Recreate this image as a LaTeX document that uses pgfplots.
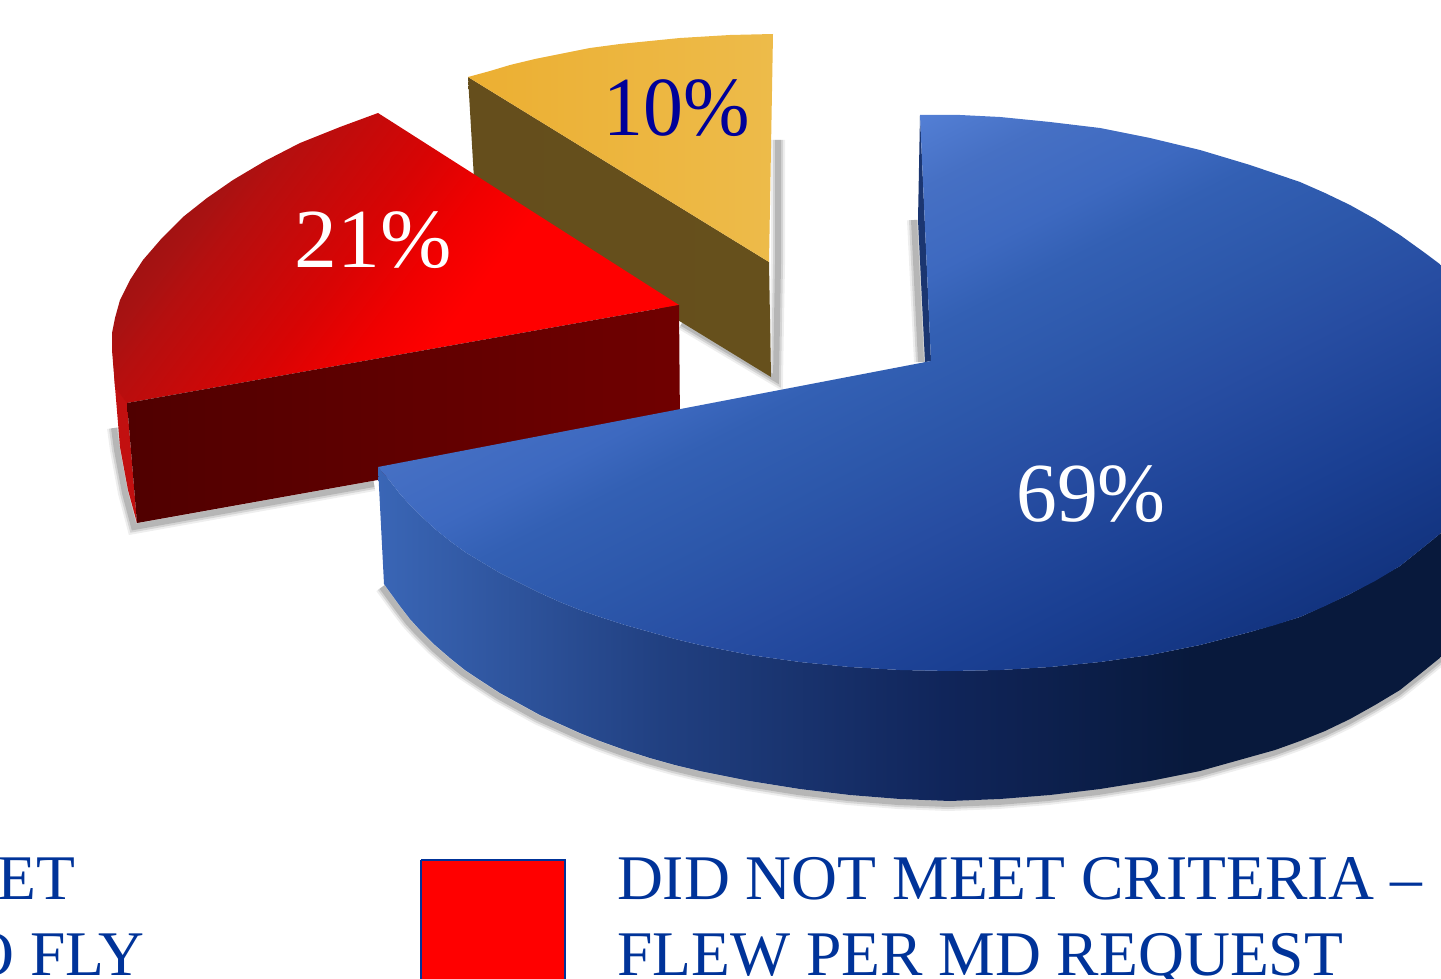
\documentclass[border=0pt]{standalone}
\usepackage{pgfplots}
\usepackage{pgfplotstable}
\usepackage{fontspec}
\setmainfont{Liberation Serif}
\pgfplotsset{compat=1.18}

\definecolor{legendblue}{HTML}{003399}
\definecolor{labelblue}{HTML}{000099}
\definecolor{shadowgray}{HTML}{707070}

% Colour stops of the slice faces
\definecolor{bt1}{HTML}{133480}
\definecolor{bt2}{HTML}{1A3F92}
\definecolor{bt3}{HTML}{274DA2}
\definecolor{bt4}{HTML}{2C57AA}
\definecolor{bt5}{HTML}{3360B4}
\definecolor{bt6}{HTML}{3D69C0}
\definecolor{bt7}{HTML}{4670C4}
\definecolor{bt8}{HTML}{5480D6}
\definecolor{bt9}{HTML}{5A84DC}
\definecolor{bs1}{HTML}{3A66B6}
\definecolor{bs2}{HTML}{214081}
\definecolor{bs3}{HTML}{10255A}
\definecolor{bs4}{HTML}{08193C}
\definecolor{rt1}{HTML}{A01212}
\definecolor{rt2}{HTML}{A81212}
\definecolor{rt3}{HTML}{B50F0F}
\definecolor{rt4}{HTML}{C50A0A}
\definecolor{rt5}{HTML}{D80404}
\definecolor{rt6}{HTML}{F00000}
\definecolor{rt7}{HTML}{FF0000}
\definecolor{rs}{HTML}{C21010}
\definecolor{rf1}{HTML}{500000}
\definecolor{rf2}{HTML}{700000}
\definecolor{gt1}{HTML}{ECAF32}
\definecolor{gt2}{HTML}{EDBB4A}
\definecolor{gs1}{HTML}{654E1C}
\definecolor{gs2}{HTML}{66501C}

\pgfdeclareverticalshading{bluetop}{100bp}{
  color(0bp)=(bt1); color(25.7bp)=(bt1); color(33bp)=(bt2); color(42bp)=(bt3);
  color(47.7bp)=(bt4); color(54bp)=(bt5); color(57.4bp)=(bt6); color(62.7bp)=(bt7);
  color(67.5bp)=(bt8); color(84bp)=(bt9); color(100bp)=(bt9)}
\pgfdeclarehorizontalshading{blueside}{100bp}{
  color(0bp)=(bs1); color(25bp)=(bs1); color(37.5bp)=(bs2); color(50bp)=(bs3);
  color(61bp)=(bs4); color(100bp)=(bs4)}
\pgfdeclarehorizontalshading{redtop}{100bp}{
  color(0bp)=(rt1); color(27bp)=(rt1); color(30bp)=(rt2); color(33.3bp)=(rt3);
  color(39bp)=(rt4); color(46bp)=(rt5); color(53bp)=(rt6); color(59.5bp)=(rt7);
  color(100bp)=(rt7)}

% Outlines of the faces, in pixel-like units with y running downwards
\pgfplotstableread{
x y
920 115
960 115
1000 117
1050 122
1100 128
1150 138
1200 150
1250 165
1300 182
1325 193
1350 205
1375 219
1400 235
1425 253
1441 265
1480 319
1500 393
1480 490
1441 533
1420 550
1400 566
1375 581
1350 594
1325 606
1300 617
1275 625
1250 632
1200 645
1150 655
1100 662
1050 667
1000 670
950 671
900 670
850 667
800 662
750 655
725 650
700 645
675 639
650 632
625 625
600 617
580 610
560 602
540 593
520 583
500 573
480 561
465 552
450 541
435 529
420 515
410 505
400 494
390 481
378 467
931 361
920 115
}\blueTop
\pgfplotstableread{
x y
378 467
390 481
400 494
410 505
420 515
435 529
450 541
465 552
480 561
500 573
520 583
540 593
560 602
580 610
600 617
625 625
650 632
675 639
700 645
725 650
750 655
800 662
850 667
900 670
950 671
1000 670
1050 667
1100 662
1150 655
1200 645
1250 632
1300 617
1350 594
1400 566
1441 533
1480 490
1500 393
1510 550
1480 612
1441 657
1420 674
1400 690
1375 705
1350 719
1325 731
1300 741
1275 750
1250 757
1225 764
1200 771
1150 781
1100 789
1050 795
1000 799
950 801
900 799
850 795
800 789
750 781
725 776
700 771
675 765
650 758
625 750
600 741
580 733
560 724
540 715
520 704
500 693
480 680
465 670
450 658
435 645
420 630
410 619
400 606
392 595
384 584
378 467
}\blueSide
\pgfplotstableread{
x y
384 584
392 595
400 606
410 619
420 630
435 645
450 658
465 670
480 680
500 693
520 704
540 715
560 724
580 733
600 741
625 750
650 758
675 765
700 771
725 776
750 781
800 789
850 795
900 799
950 801
1000 799
1050 795
1100 789
1150 781
1200 771
1225 764
1250 757
1275 750
1300 741
1325 731
1350 719
1375 705
1400 690
1420 674
1441 657
1480 612
}\blueRim
\pgfplotstableread{
x y
117 425
120 447
128 490
137 524
377 481
}\redRim
\pgfplotstableread{
x y
776 138
776 262
774 377
680 321
}\goldRim
\pgfplotstableread{
x y
915 220
922 362
}\notchEdge

\newcommand{\softshadow}[3]{%
  \addplot[draw=shadowgray, line width=7pt, opacity=.12, line cap=butt]
    table[x expr=\thisrow{x}+#2, y expr=\thisrow{y}+#3] {#1};
  \addplot[draw=shadowgray, line width=5pt, opacity=.2, line cap=butt]
    table[x expr=\thisrow{x}+#2, y expr=\thisrow{y}+#3] {#1};
  \addplot[draw=shadowgray, line width=3pt, opacity=.3, line cap=butt]
    table[x expr=\thisrow{x}+#2, y expr=\thisrow{y}+#3] {#1};
}

\begin{document}
\begin{tikzpicture}[every node/.style={inner sep=0pt, outer sep=0pt}]
\path[use as bounding box, clip] (0,0) rectangle (720.5pt,489.5pt);
\begin{axis}[
  at={(0,0)}, anchor=south west,
  width=720.5pt, height=489.5pt, scale only axis,
  xmin=0, xmax=1441, ymin=0, ymax=979, y dir=reverse,
  hide axis, clip=true,
  every axis plot/.append style={no markers, sharp plot},
]
% Drop shadows on the page
\softshadow{\blueRim}{-2}{3}
\softshadow{\redRim}{-3}{3}
\softshadow{\goldRim}{2}{2}
\softshadow{\notchEdge}{-1}{0}

% 10% slice
\addplot[draw=none, left color=gs1, right color=gs2] coordinates
  {(468,77) (769,262) (771,377) (475,196) (468,77)};
\addplot[draw=none, left color=gt1, right color=gt2] coordinates
  {(468,77) (490,71) (510,65) (535,59) (560,54) (590,48) (620,44) (650,41) (680,38) (730,35) (773,34) (769,262) (468,77)};

% 21% slice
\addplot[draw=none, fill=rs] coordinates
  {(112,340) (115,387) (120,447) (128,490) (137,523) (127,403) (112,340)};
\addplot[draw=none, shade, shading=redtop, shading angle=-36.9] coordinates
  {(378,113) (340,127) (300,143) (265,161) (233,180) (207,198) (183,217) (162,238)
   (143,260) (130,280) (120,300) (115,318) (112,333) (112,350) (115,387) (127,403)
   (679,305) (378,113)};
\addplot[draw=none, left color=rf1, right color=rf2] coordinates
  {(127,403) (679,305) (680,426) (137,523) (127,403)};

% 69% slice
\addplot[draw=none, fill=black!30!bt3] coordinates
  {(920,115) (918,220) (925,362) (931,361) (920,115)};
\addplot[draw=none, shade, shading=blueside] table {\blueSide};
\addplot[draw=none, shade, shading=bluetop, shading angle=27] table {\blueTop};

% Percentage labels
\node[anchor=base, text=labelblue, font=\fontsize{42}{46}\selectfont] at (axis cs:677,136) {\scalebox{.95}[1]{10\%}};
\node[anchor=base, text=white, font=\fontsize{42}{46}\selectfont] at (axis cs:373,267) {\scalebox{1.02}[1]{21\%}};
\node[anchor=base, text=white, font=\fontsize{42}{46}\selectfont] at (axis cs:1091,521) {\scalebox{.97}[1]{69\%}};

% Key
\addplot[fill=red, draw=legendblue, line width=1.25pt] coordinates
  {(421,860) (565,860) (565,995) (421,995) (421,860)};
\node[anchor=base west, text=legendblue, font=\fontsize{31.8}{36}\selectfont] at (axis cs:617,899) {DID NOT MEET CRITERIA --};
\node[anchor=base west, text=legendblue, font=\fontsize{31.8}{36}\selectfont] at (axis cs:617,975) {FLEW PER MD REQUEST};
\node[anchor=base east, text=legendblue, font=\fontsize{31.8}{36}\selectfont] at (axis cs:75,899) {MEET};
\node[anchor=base east, text=legendblue, font=\fontsize{31.8}{36}\selectfont] at (axis cs:144,975) {TO FLY};
\end{axis}
\end{tikzpicture}
\end{document}
